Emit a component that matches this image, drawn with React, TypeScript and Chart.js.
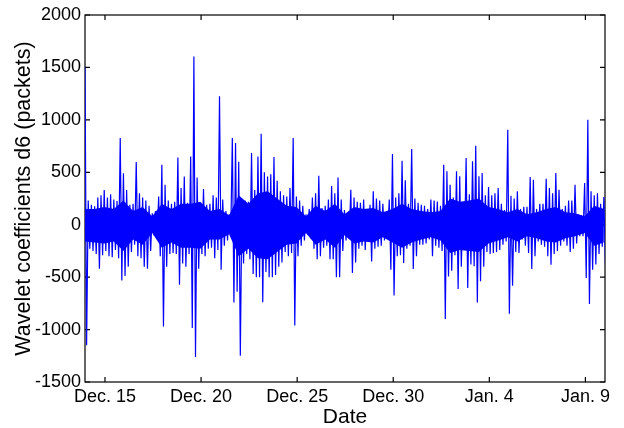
import React, { useEffect, useRef } from "react";
import { Chart, registerables } from "chart.js";

Chart.register(...registerables);

// Envelope sampling: each bin covers 4 hours, first bin at the left edge (Dec. 14)
const binStartDay = -0.04;
const binDays = 1 / 6;

// Max value within each bin (packets)
const binMax = [
  1500, 230, 190, 175, 260, 280, 330, 260, 290, 240,
  225, 827, 490, 330, 190, 200, 598, 300, 260, 230,
  180, 110, 130, 270, 572, 380, 230, 200, 220, 642,
  350, 460, 210, 650, 1605, 450, 180, 340, 190, 200,
  280, 260, 1224, 240, 130, 100, 827, 780, 600, 240,
  230, 220, 684, 330, 650, 868, 500, 460, 480, 645,
  420, 320, 280, 270, 350, 828, 270, 230, 180, 100,
  150, 260, 300, 467, 160, 180, 240, 370, 300, 450,
  240, 140, 110, 334, 260, 220, 210, 240, 150, 190,
  318, 250, 230, 200, 110, 240, 674, 260, 300, 610,
  423, 200, 722, 250, 210, 190, 180, 150, 240, 230,
  220, 180, 572, 509, 380, 260, 509, 461, 200, 636,
  290, 604, 754, 461, 493, 280, 360, 280, 300, 350,
  200, 140, 906, 277, 250, 318, 150, 170, 170, 455,
  429, 150, 200, 200, 439, 350, 300, 493, 334, 150,
  180, 230, 230, 381, 100, 90, 397, 1002, 320, 280,
  300, 200, 264,
];

// Min value within each bin (packets)
const binMin = [
  -1150, -230, -250, -280, -420, -290, -250, -300, -310, -240,
  -320, -531, -490, -400, -260, -190, -300, -320, -400, -420,
  -250, -100, -120, -300, -970, -400, -280, -270, -280, -572,
  -370, -400, -280, -985, -1262, -420, -280, -300, -230, -220,
  -320, -240, -430, -200, -150, -110, -741, -640, -1250, -370,
  -280, -330, -470, -500, -500, -740, -450, -500, -500, -480,
  -400, -360, -260, -300, -270, -960, -300, -200, -150, -95,
  -130, -230, -330, -300, -220, -200, -330, -330, -500, -500,
  -250, -150, -100, -461, -360, -230, -200, -240, -150, -350,
  -230, -210, -200, -150, -110, -430, -674, -300, -290, -366,
  -230, -200, -423, -300, -190, -190, -180, -140, -300, -200,
  -220, -250, -900, -493, -440, -290, -614, -400, -190, -604,
  -380, -397, -741, -540, -400, -260, -280, -270, -260, -240,
  -190, -160, -849, -582, -260, -270, -140, -200, -270, -423,
  -300, -160, -190, -210, -300, -381, -280, -250, -200, -160,
  -200, -260, -230, -180, -110, -110, -508, -757, -430, -380,
  -280, -210, -381,
];

// Dense (solid) core of the signal, sampled every half day
const coreStartDay = -0.04;
const coreDays = 0.5;
const coreUpper = [
  150, 150, 170, 150, 230, 130, 170, 80, 200, 150,
  200, 200, 220, 130, 150, 90, 280, 200, 300, 320,
  250, 180, 170, 80, 180, 130, 200, 100, 170, 150,
  160, 120, 150, 200, 150, 130, 120, 130, 250, 220,
  230, 250, 170, 150, 120, 150, 100, 120, 150, 170,
  120, 110, 80, 180, 150,
];
const coreLower = [
  -160, -170, -180, -160, -250, -140, -190, -80, -220, -170,
  -220, -220, -230, -140, -140, -90, -300, -230, -320, -330,
  -260, -190, -180, -80, -190, -140, -220, -100, -180, -160,
  -170, -120, -170, -220, -170, -140, -120, -150, -270, -240,
  -250, -260, -180, -150, -120, -160, -110, -130, -160, -170,
  -130, -110, -80, -200, -170,
];

const yTickValues = [-1500, -1000, -500, 0, 500, 1000, 1500, 2000];
const xTickDays = [1, 6, 11, 16, 21, 26];
const xTickLabels = ["Dec. 15", "Dec. 20", "Dec. 25", "Dec. 30", "Jan. 4", "Jan. 9"];

const FONT = "'Liberation Sans', Arial, Helvetica, sans-serif";
const BLUE = "#0000ff";

const framePlugin = {
  id: "frameTicks",
  beforeDatasetsDraw(chart: any) {
    const { ctx, chartArea, scales } = chart;
    const { left, right, top, bottom } = chartArea;
    const x = scales.x;
    const y = scales.y;
    ctx.save();
    ctx.strokeStyle = "#000";
    ctx.lineWidth = 1.2;
    ctx.strokeRect(left, top, right - left, bottom - top);
    const len = 5;
    ctx.beginPath();
    y.ticks.forEach((t: any) => {
      const py = y.getPixelForValue(t.value);
      ctx.moveTo(left, py);
      ctx.lineTo(left + len, py);
      ctx.moveTo(right, py);
      ctx.lineTo(right - len, py);
    });
    x.ticks.forEach((t: any) => {
      const px = x.getPixelForValue(t.value);
      ctx.moveTo(px, bottom);
      ctx.lineTo(px, bottom - len);
      ctx.moveTo(px, top);
      ctx.lineTo(px, top + len);
    });
    ctx.stroke();
    ctx.restore();
  },
};

export default function App() {
  const canvasRef = useRef<HTMLCanvasElement | null>(null);

  useEffect(() => {
    if (!canvasRef.current) return;
    const points: { x: number; y: number }[] = [];
    for (let i = 0; i < binMax.length; i++) {
      points.push({ x: binStartDay + i * binDays, y: binMax[i] });
      points.push({ x: binStartDay + (i + 0.5) * binDays, y: binMin[i] });
    }
    const upper = coreUpper.map((v, i) => ({ x: coreStartDay + i * coreDays, y: v }));
    const lower = coreLower.map((v, i) => ({ x: coreStartDay + i * coreDays, y: v }));
    const chart = new Chart(canvasRef.current, {
      type: "line",
      data: {
        datasets: [
          {
            data: points,
            borderColor: BLUE,
            borderWidth: 1.2,
            pointRadius: 0,
            tension: 0,
            fill: false,
          },
          {
            data: upper,
            borderColor: BLUE,
            borderWidth: 0,
            pointRadius: 0,
            tension: 0,
            fill: false,
          },
          {
            data: lower,
            borderColor: BLUE,
            backgroundColor: BLUE,
            borderWidth: 0,
            pointRadius: 0,
            tension: 0,
            fill: "-1",
          },
        ],
      },
      options: {
        animation: false,
        responsive: true,
        maintainAspectRatio: false,
        parsing: false,
        normalized: true,
        layout: { padding: { left: 0, right: 19, top: 15, bottom: 0 } },
        plugins: {
          legend: { display: false },
          tooltip: { enabled: false },
        },
        scales: {
          x: {
            type: "linear",
            min: -0.04,
            max: 27.02,
            afterBuildTicks: (s: any) => {
              s.ticks = xTickDays.map((v) => ({ value: v }));
            },
            afterFit: (s: any) => {
              s.height = 46;
            },
            ticks: {
              autoSkip: false,
              maxRotation: 0,
              padding: 4,
              color: "#000",
              font: { family: FONT, size: 18 },
              callback: (v: any) => {
                const idx = xTickDays.indexOf(Number(v));
                return idx >= 0 ? xTickLabels[idx] : "";
              },
            },
            grid: { display: false, drawTicks: false },
            border: { display: false },
            title: {
              display: true,
              text: "Date",
              color: "#000",
              font: { family: FONT, size: 21 },
              padding: { top: 0, bottom: -2 },
            },
          },
          y: {
            type: "linear",
            min: -1500,
            max: 2000,
            afterBuildTicks: (s: any) => {
              s.ticks = yTickValues.map((v) => ({ value: v }));
            },
            afterFit: (s: any) => {
              s.width = 85;
            },
            ticks: {
              padding: 4,
              color: "#000",
              font: { family: FONT, size: 18 },
              callback: (v: any) => String(v),
            },
            grid: { display: false, drawTicks: false },
            border: { display: false },
            title: {
              display: true,
              text: "Wavelet coefficients d6 (packets)",
              color: "#000",
              font: { family: FONT, size: 21.5 },
              padding: { top: 11, bottom: 0 },
            },
          },
        },
      },
      plugins: [framePlugin],
    });
    return () => chart.destroy();
  }, []);

  return (
    <div style={{ position: "fixed", left: 0, top: 0, width: 624, height: 428, background: "#fff" }}>
      <canvas ref={canvasRef} />
    </div>
  );
}
